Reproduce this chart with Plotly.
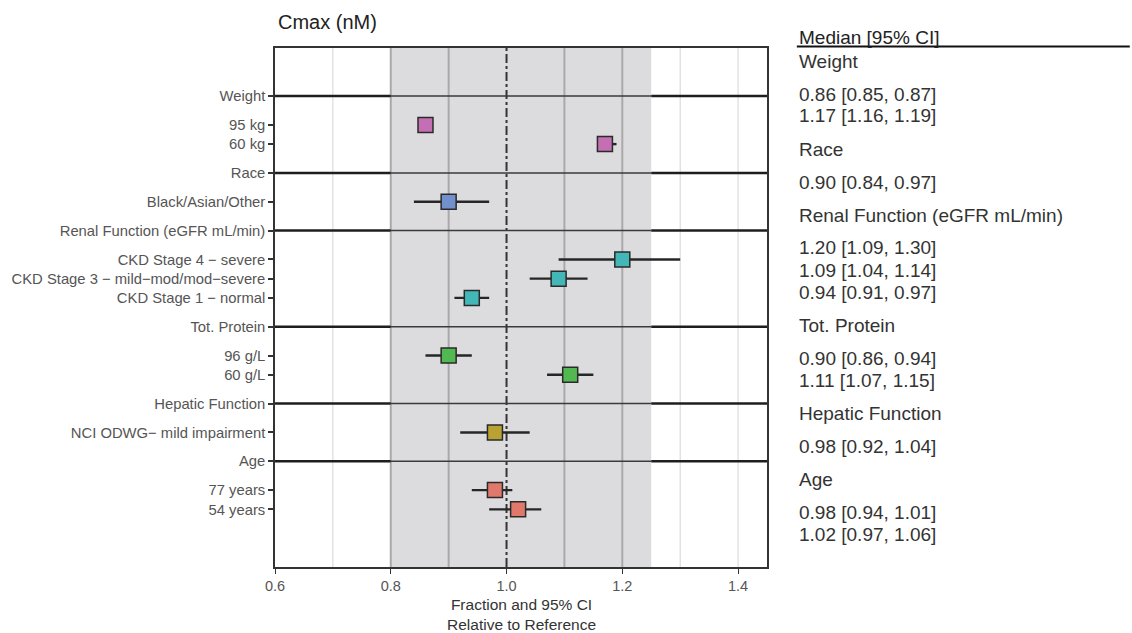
import plotly.graph_objects as go

# ---- data ----
groups = ["Weight", "Race", "Renal Function (eGFR mL/min)", "Tot. Protein", "Hepatic Function", "Age"]
group_items = [
    ["95 kg", "60 kg"],
    ["Black/Asian/Other"],
    ["CKD Stage 4 \u2212 severe", "CKD Stage 3 \u2212 mild\u2212mod/mod\u2212severe", "CKD Stage 1 \u2212 normal"],
    ["96 g/L", "60 g/L"],
    ["NCI ODWG\u2212 mild impairment"],
    ["77 years", "54 years"],
]
medians = [[0.86, 1.17], [0.90], [1.20, 1.09, 0.94], [0.90, 1.11], [0.98], [0.98, 1.02]]
lower = [[0.85, 1.16], [0.84], [1.09, 1.04, 0.91], [0.86, 1.07], [0.92], [0.94, 0.97]]
upper = [[0.87, 1.19], [0.97], [1.30, 1.14, 0.97], [0.94, 1.15], [1.04], [1.01, 1.06]]
group_colors = ["#c46fb4", "#7190cc", "#43b7b8", "#52b852", "#b9a232", "#e0786c"]
x_ticks = [0.6, 0.8, 1.0, 1.2, 1.4]
band = (0.8, 1.25)
grid_x = [0.7, 0.8, 0.9, 1.1, 1.2, 1.3, 1.4]

FONT = "Arial, Liberation Sans, sans-serif"

# ---- layout of rows (y increases downward) ----
tickvals, ticktext = [], []
header_y = []
item_rows = []  # (y, med, lo, hi, color)
y = 0.0
for gi, g in enumerate(groups):
    if gi > 0:
        y += 1.5
    header_y.append(y)
    tickvals.append(y); ticktext.append(g)
    for k, it in enumerate(group_items[gi]):
        y += 1.5 if k == 0 else 1.0
        tickvals.append(y); ticktext.append(it)
        item_rows.append((y, medians[gi][k], lower[gi][k], upper[gi][k], group_colors[gi]))

XR = [0.6, 1.45]
YR = [y + 3.0, -2.5]

fig = go.Figure()
shapes = []
# band
shapes.append(dict(type="rect", xref="x", yref="paper", x0=band[0], x1=band[1], y0=0, y1=1,
                   fillcolor="#dcdcdf", line=dict(width=0), layer="between"))
# vertical gridlines
for gx in grid_x:
    inside = band[0] <= gx <= band[1]
    shapes.append(dict(type="line", xref="x", yref="paper", x0=gx, x1=gx, y0=0, y1=1,
                       line=dict(color="#a9a9ab" if inside else "#d4d4d4", width=2 if inside else 1),
                       layer="between"))
# header lines
for hy in header_y:
    for xa, xb, w, c in [(XR[0], band[0], 2.5, "#1e1e1e"), (band[0], band[1], 1.5, "#3a3a3a"), (band[1], XR[1], 2.5, "#1e1e1e")]:
        shapes.append(dict(type="line", xref="x", yref="y", x0=xa, x1=xb, y0=hy, y1=hy,
                           line=dict(color=c, width=w), layer="between"))
# reference line at 1.0
shapes.append(dict(type="line", xref="x", yref="paper", x0=1.0, x1=1.0, y0=0, y1=1,
                   line=dict(color="#333333", width=2, dash="dashdot"), layer="between"))

# error bars
for (ry, m, lo, hi, c) in item_rows:
    fig.add_trace(go.Scatter(x=[lo, hi], y=[ry, ry], mode="lines",
                             line=dict(color="#262626", width=2.4), hoverinfo="skip", showlegend=False))
# markers
fig.add_trace(go.Scatter(
    x=[r[1] for r in item_rows], y=[r[0] for r in item_rows], mode="markers",
    marker=dict(symbol="square", size=15, color=[r[4] for r in item_rows],
                line=dict(color="#2a2a2a", width=1.5)),
    showlegend=False))

annotations = []
H = 633
top_m, bot_m = 48, 66
ph = H - top_m - bot_m
def py(pix):
    return (H - bot_m - pix) / ph

# title
annotations.append(dict(text="Cmax (nM)", xref="paper", yref="paper", x=(273 - 272) / 495, y=py(22),
                        xanchor="left", yanchor="middle", showarrow=False,
                        font=dict(size=20, color="#222222", family=FONT)))
# x-axis title (two lines in one text)
annotations.append(dict(text="Fraction and 95% CI<br>Relative to Reference", xref="paper", yref="paper",
                        x=0.5, y=py(614), xanchor="center", yanchor="middle", showarrow=False,
                        font=dict(size=15.5, color="#333333", family=FONT)))

# right-hand table (pixel-based layout)
tx = 1.0 + (797 - 767) / 495
annotations.append(dict(text="Median [95% CI]", xref="paper", yref="paper", x=tx, y=py(37),
                        xanchor="left", yanchor="middle", showarrow=False,
                        font=dict(size=19, color="#222222", family=FONT)))
shapes.append(dict(type="line", xref="paper", yref="paper", x0=tx, x1=1.0 + (1132 - 767) / 495,
                   y0=py(46.5), y1=py(46.5), line=dict(color="#111111", width=2)))
cur = 61
for gi, g in enumerate(groups):
    if gi > 0:
        cur += 33
    annotations.append(dict(text=g, xref="paper", yref="paper", x=tx, y=py(cur), xanchor="left",
                            yanchor="middle", showarrow=False,
                            font=dict(size=19, color="#333333", family=FONT)))
    for k in range(len(group_items[gi])):
        cur += 33 if k == 0 else 22
        s = f"{medians[gi][k]:.2f} [{lower[gi][k]:.2f}, {upper[gi][k]:.2f}]"
        annotations.append(dict(text=s, xref="paper", yref="paper", x=tx, y=py(cur), xanchor="left",
                                yanchor="middle", showarrow=False,
                                font=dict(size=19, color="#333333", family=FONT)))

fig.update_layout(
    width=1132, height=633,
    margin=dict(l=272, r=365, t=top_m, b=bot_m),
    paper_bgcolor="white", plot_bgcolor="white",
    shapes=shapes, annotations=annotations,
    font=dict(family=FONT, color="#4d4d4d"),
    xaxis=dict(range=XR, tickvals=x_ticks, ticktext=[f"{v:.1f}" for v in x_ticks],
               showgrid=False, zeroline=False, ticks="outside", ticklen=5, tickcolor="#333333",
               tickfont=dict(size=14.5, color="#555555"), showline=True, linecolor="#333333",
               linewidth=1.5, mirror=True),
    yaxis=dict(range=YR, tickvals=tickvals, ticktext=ticktext, showgrid=False, zeroline=False,
               ticks="outside", ticklen=5, tickwidth=1.5, tickcolor="#333333",
               tickfont=dict(size=14.8, color="#555555"), showline=True, linecolor="#333333",
               linewidth=1.5, mirror=True),
)

fig.write_html("out.html", config={"displayModeBar": False},
               post_script="document.body.style.margin='0px';")
